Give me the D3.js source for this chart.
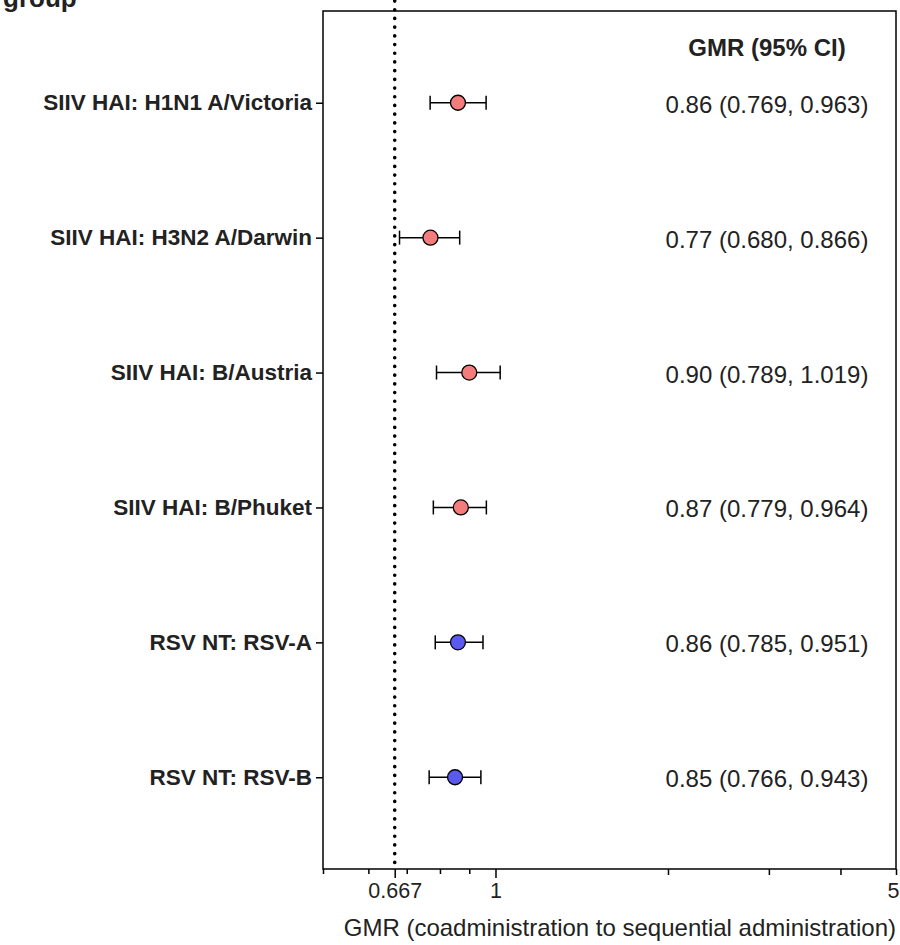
<!DOCTYPE html>
<html>
<head>
<meta charset="utf-8">
<script src="https://cdn.jsdelivr.net/npm/d3@7"></script>
<style>
  body { margin: 0; background: #fff; }
  svg { display: block; font-family: "Liberation Sans", Arial, sans-serif; }
</style>
</head>
<body>
<div id="chart"></div>
<script>
// data
var labels = ["SIIV HAI: H1N1 A/Victoria", "SIIV HAI: H3N2 A/Darwin", "SIIV HAI: B/Austria",
              "SIIV HAI: B/Phuket", "RSV NT: RSV-A", "RSV NT: RSV-B"];
var gmr = [0.86, 0.77, 0.90, 0.87, 0.86, 0.85];
var lower = [0.769, 0.680, 0.789, 0.779, 0.785, 0.766];
var upper = [0.963, 0.866, 1.019, 0.964, 0.951, 0.943];
var groups = ["SIIV", "SIIV", "SIIV", "SIIV", "RSV", "RSV"];
var tickValues = [0.5, 0.6, 0.667, 0.7, 0.8, 0.9, 1, 2, 3, 4, 5];
var tickLabelValues = [0.667, 1, 5];
var refValue = 0.667;

var fullWidth = 900;
var fullHeight = 945;
var plot = { left: 323, right: 896, top: 11, bottom: 869 };

var svg = d3.select("#chart").append("svg")
    .attr("width", fullWidth)
    .attr("height", fullHeight);

var x = d3.scaleLog()
    .domain([0.5, 5])
    .range([plot.left, plot.right]);

var y = d3.scalePoint()
    .domain(d3.range(labels.length))
    .range([plot.top, plot.bottom])
    .padding(0.68);

var color = d3.scaleOrdinal()
    .domain(["SIIV", "RSV"])
    .range(["#f47c7c", "#5a5af0"]);

// cut-off title fragment at the top
svg.append("text")
    .attr("x", 3)
    .attr("y", 7)
    .style("font-weight", "bold")
    .style("font-size", "26px")
    .attr("fill", "#222")
    .text("group");

// reference line (drawn first so the box sits on top)
svg.append("line")
    .attr("x1", x(refValue)).attr("x2", x(refValue))
    .attr("y1", 1).attr("y2", plot.bottom - 4)
    .attr("stroke", "#000")
    .attr("stroke-width", 3.6)
    .attr("stroke-linecap", "round")
    .attr("stroke-dasharray", "0.1 8.6");

// plot box
svg.append("rect")
    .attr("x", plot.left)
    .attr("y", plot.top)
    .attr("width", plot.right - plot.left)
    .attr("height", plot.bottom - plot.top)
    .attr("fill", "none")
    .attr("stroke", "#000")
    .attr("stroke-width", 1.5);

// x axis
var xAxis = d3.axisBottom(x)
    .tickValues(tickValues)
    .tickSize(6)
    .tickSizeOuter(0)
    .tickFormat(function (d) { return tickLabelValues.indexOf(d) >= 0 ? String(d) : ""; });

var gx = svg.append("g")
    .attr("transform", "translate(0," + plot.bottom + ")")
    .call(xAxis);
gx.select(".domain").remove();
gx.selectAll(".tick line")
    .attr("stroke-width", 1.5)
    .attr("y2", function (d) { return (d === 0.667 || d === 1) ? 9 : (d < 1 ? 5 : 6); });
gx.selectAll(".tick text")
    .attr("y", 14)
    .style("font-size", "21.5px")
    .style("font-family", "Liberation Sans, Arial, sans-serif")
    .attr("fill", "#222")
    .attr("text-anchor", function (d) { return d === 5 ? "end" : "middle"; })
    .attr("dx", function (d) { return d === 5 ? 3 : 0; });

svg.append("text")
    .attr("x", plot.right)
    .attr("y", 936)
    .attr("text-anchor", "end")
    .style("font-size", "24px")
    .attr("fill", "#222")
    .text("GMR (coadministration to sequential administration)");

// y axis ticks and labels
var yAxis = d3.axisLeft(y)
    .tickSize(7)
    .tickSizeOuter(0)
    .tickPadding(4)
    .tickFormat(function (i) { return labels[i]; });

var gy = svg.append("g")
    .attr("transform", "translate(" + plot.left + ",0)")
    .call(yAxis);
gy.select(".domain").remove();
gy.selectAll(".tick line").attr("stroke-width", 1.5);
gy.selectAll(".tick text")
    .style("font-size", "22.5px")
    .style("font-weight", "bold")
    .style("font-family", "Liberation Sans, Arial, sans-serif")
    .attr("fill", "#222");

// error bars
var rows = svg.append("g").selectAll("g")
    .data(d3.range(labels.length))
    .enter()
    .append("g");

rows.append("line")
    .attr("x1", function (i) { return x(lower[i]); })
    .attr("x2", function (i) { return x(upper[i]); })
    .attr("y1", function (i) { return y(i); })
    .attr("y2", function (i) { return y(i); })
    .attr("stroke", "#000")
    .attr("stroke-width", 1.5);

[lower, upper].forEach(function (arr) {
    rows.append("line")
        .attr("x1", function (i) { return x(arr[i]); })
        .attr("x2", function (i) { return x(arr[i]); })
        .attr("y1", function (i) { return y(i) - 7; })
        .attr("y2", function (i) { return y(i) + 7; })
        .attr("stroke", "#000")
        .attr("stroke-width", 1.5);
});

rows.append("circle")
    .attr("cx", function (i) { return x(gmr[i]); })
    .attr("cy", function (i) { return y(i); })
    .attr("r", 7.5)
    .attr("fill", function (i) { return color(groups[i]); })
    .attr("stroke", "#000")
    .attr("stroke-width", 1.3);

// GMR (95% CI) column
var colX = 767;
svg.append("text")
    .attr("x", colX)
    .attr("y", 56)
    .attr("text-anchor", "middle")
    .style("font-size", "24px")
    .style("font-weight", "bold")
    .attr("fill", "#222")
    .text("GMR (95% CI)");

var f2 = d3.format(".2f"), f3 = d3.format(".3f");
rows.append("text")
    .attr("x", colX)
    .attr("y", function (i) { return y(i) + 10; })
    .attr("text-anchor", "middle")
    .style("font-size", "24px")
    .attr("fill", "#222")
    .text(function (i) { return f2(gmr[i]) + " (" + f3(lower[i]) + ", " + f3(upper[i]) + ")"; });
</script>
</body>
</html>
